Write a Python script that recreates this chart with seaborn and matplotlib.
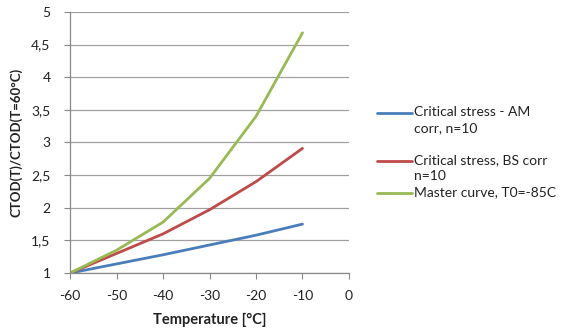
import matplotlib
matplotlib.use("Agg")
import matplotlib.pyplot as plt
import seaborn as sns
import pandas as pd
from matplotlib.ticker import FuncFormatter

temps = [-60, -50, -40, -30, -20, -10]
blue_vals = [1.0, 1.14, 1.28, 1.43, 1.58, 1.75]
red_vals = [1.0, 1.30, 1.60, 1.97, 2.40, 2.91]
green_vals = [1.0, 1.35, 1.78, 2.45, 3.40, 4.68]
series_names = ["Critical stress - AM\ncorr, n=10",
                "Critical stress, BS corr\nn=10",
                "Master curve, T0=-85C"]
colors = ["#4A7EBB", "#BE4B48", "#98B954"]

rows = []
for name, vals in zip(series_names, [blue_vals, red_vals, green_vals]):
    for t, v in zip(temps, vals):
        rows.append({"T": t, "v": v, "s": name})
df = pd.DataFrame(rows)

sns.set_style("white")
plt.rcParams['font.family'] = ['Lato', 'DejaVu Sans']
plt.rcParams['axes.unicode_minus'] = False

fig = plt.figure(figsize=(5.67, 3.31), dpi=100)
ax = fig.add_axes([0.1235, 0.175, 0.492, 0.789])
sns.lineplot(data=df, x="T", y="v", hue="s", palette=colors, linewidth=2.0,
             ax=ax, legend=False)

ax.set_xlim(-60, 0)
ax.set_ylim(1, 5)
ax.set_xticks(range(-60, 1, 10))
ax.set_yticks([1, 1.5, 2, 2.5, 3, 3.5, 4, 4.5, 5])
ax.yaxis.set_major_formatter(FuncFormatter(lambda v, p: f"{v:g}".replace(".", ",")))
ax.grid(axis="y", color="#A0A0A0", linewidth=0.9)
ax.set_axisbelow(True)
for s in ["top", "right"]:
    ax.spines[s].set_visible(False)
for s in ["left", "bottom"]:
    ax.spines[s].set_color("#888888")
    ax.spines[s].set_linewidth(0.9)
ax.tick_params(axis="both", which="both", direction="out", length=4, width=0.8,
               color="#888888", labelsize=10, labelcolor="#222222",
               bottom=True, left=True)
ax.tick_params(axis="x", pad=8)
ax.tick_params(axis="y", pad=10)
ax.set_xlabel("Temperature [°C]", fontsize=10.5, fontweight="bold", color="#222222", labelpad=8)
ax.set_ylabel("CTOD(T)/CTOD(T=60°C)", fontsize=9.5, fontweight="bold", color="#222222", labelpad=6)

# legend (handles aligned with first text line, as in the reference)
leg_y = [1 - 113 / 331, 1 - 161 / 331, 1 - 193 / 331]
for name, c, y in zip(series_names, colors, leg_y):
    fig.add_artist(plt.Line2D([377 / 567, 412 / 567], [y, y], color=c, linewidth=2.0,
                              transform=fig.transFigure))
    fig.text(414 / 567, y + 0.021, name, fontsize=10, color="#222222",
             va="top", ha="left", linespacing=1.38)

fig.savefig("out.png", dpi=100)
